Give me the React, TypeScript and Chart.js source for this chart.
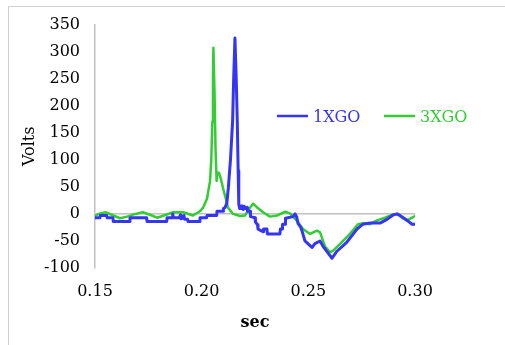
import React, { useEffect, useRef } from "react";
import { Chart, registerables } from "chart.js";

Chart.register(...registerables);

const seriesLabels = ["1XGO", "3XGO"];
const seriesColors = ["#3535F5", "#33CC33"];

const xTicks = [0.15, 0.2, 0.25, 0.3];

const blueT = [
  0.150, 0.1523, 0.1525, 0.1555, 0.1557, 0.1584, 0.1586, 0.1662, 0.1664, 0.1742,
  0.1744, 0.1836, 0.1838, 0.1862, 0.1864, 0.1868, 0.1896, 0.1900, 0.1903, 0.1915,
  0.1917, 0.1920, 0.1934, 0.1936, 0.1990, 0.1992, 0.2023, 0.2025, 0.2070, 0.2072,
  0.2100, 0.2102, 0.2110, 0.2118, 0.2125, 0.2135, 0.2145, 0.2150, 0.2156, 0.2162,
  0.2167, 0.2171, 0.2174, 0.2178, 0.2180, 0.2185, 0.2190, 0.2195, 0.2200, 0.2205,
  0.2213, 0.2215, 0.2227, 0.2229, 0.2250, 0.2252, 0.2262, 0.2264, 0.2288, 0.2290,
  0.2306, 0.2308, 0.2367, 0.2369, 0.2377, 0.2379, 0.2391, 0.2393, 0.2428, 0.2438,
  0.2445, 0.2452, 0.2465, 0.2470, 0.2484, 0.2517, 0.2531, 0.2555, 0.2569, 0.2592,
  0.2611, 0.2634, 0.2681, 0.2728, 0.2756, 0.2789, 0.2836, 0.2869, 0.2897, 0.2916,
  0.2930, 0.2963, 0.2986, 0.3000,
];
const blueV = [
  -7, -7, -3, -3, -7, -7, -14, -14, -7, -7,
  -14, -14, -7, -7, 0, -7, -7, -2, -9, -7,
  -3, -10, -10, -14, -14, -7, -7, -3, -3, 5,
  5, 10, 12, 20, 48, 100, 171, 250, 325, 250,
  171, 80, 18, 10, 15, 10, 15, 8, 14, 10,
  12, 5, 5, -5, -7, -15, -20, -28, -33, -28,
  -28, -37, -37, -28, -28, -19, -19, -8, -5, 0,
  -5, -18, -25, -31, -50, -62, -55, -50, -60, -72,
  -82, -69, -52, -28, -19, -17, -17, -10, -2, 0,
  -3, -12, -19, -19,
];

const greenT = [
  0.150, 0.1525, 0.1552, 0.1580, 0.1617, 0.1650, 0.1690, 0.1725, 0.1760, 0.1791,
  0.1830, 0.1866, 0.1913, 0.1959, 0.1992, 0.2006, 0.2025, 0.2039, 0.2045, 0.2050,
  0.2053, 0.2055, 0.2060, 0.2065, 0.2070, 0.2073, 0.2081, 0.2090, 0.2100, 0.2112,
  0.2123, 0.2147, 0.2165, 0.2180, 0.2203, 0.2220, 0.2241, 0.2260, 0.2288, 0.2320,
  0.2353, 0.2391, 0.2414, 0.2447, 0.2475, 0.2508, 0.2541, 0.2555, 0.2578, 0.2602,
  0.2616, 0.2648, 0.2695, 0.2733, 0.2756, 0.2789, 0.2822, 0.2859, 0.2892, 0.2916,
  0.2944, 0.2967, 0.3000,
];
const greenV = [
  -3, 1, 3, -2, -8, -5, 0, 3, -2, -7,
  -2, 3, 3, -3, 5, 11, 28, 60, 100, 171,
  250, 307, 230, 120, 61, 76, 76, 65, 48, 30,
  12, 0, -2, -4, -3, 8, 19, 12, 3, -5,
  -3, 4, 1, -13, -28, -37, -31, -34, -60, -71,
  -68, -56, -37, -19, -17, -19, -12, -7, -2, 0,
  -8, -11, -4,
];

const FONT = "'DejaVu Serif', 'Liberation Serif', serif";

export default function App() {
  const ref = useRef<HTMLCanvasElement | null>(null);

  useEffect(() => {
    if (!ref.current) return;
    const legendPlugin = {
      id: "customLegend",
      afterDraw(chart: any) {
        const ctx = chart.ctx;
        const items = [
          { x0: 277, x1: 308, tx: 313 },
          { x0: 384, x1: 415, tx: 420 },
        ];
        const y = 116;
        ctx.save();
        chart.data.datasets.forEach((ds: any, i: number) => {
          const it = items[i];
          ctx.strokeStyle = ds.borderColor;
          ctx.lineWidth = 2.5;
          ctx.beginPath();
          ctx.moveTo(it.x0, y);
          ctx.lineTo(it.x1, y);
          ctx.stroke();
          ctx.fillStyle = ds.borderColor;
          ctx.font = `16px ${FONT}`;
          ctx.textBaseline = "middle";
          ctx.textAlign = "left";
          ctx.fillText(ds.label, it.tx, y + 2);
        });
        ctx.restore();
      },
    };

    const chart = new Chart(ref.current, {
      type: "line",
      data: {
        datasets: [
          {
            label: seriesLabels[0],
            data: blueT.map((t, i) => ({ x: t, y: blueV[i] })),
            borderColor: seriesColors[0],
            borderWidth: 3,
            borderJoinStyle: "round",
            borderCapStyle: "round",
            pointRadius: 0,
            tension: 0,
          },
          {
            label: seriesLabels[1],
            data: greenT.map((t, i) => ({ x: t, y: greenV[i] })),
            borderColor: seriesColors[1],
            borderWidth: 2.5,
            borderJoinStyle: "round",
            borderCapStyle: "round",
            pointRadius: 0,
            tension: 0,
          },
        ],
      },
      options: {
        animation: false,
        responsive: false,
        devicePixelRatio: 1,
        layout: { padding: { left: 0, top: 24, right: 90, bottom: 0 } },
        plugins: { legend: { display: false }, tooltip: { enabled: false } },
        scales: {
          x: {
            type: "linear",
            min: 0.15,
            max: 0.3,
            afterFit: (s: any) => {
              s.height = 77;
            },
            afterBuildTicks: (s: any) => {
              s.ticks = xTicks.map((v) => ({ value: v }));
            },
            ticks: {
              padding: 14,
              color: "#000",
              font: { family: FONT, size: 16 },
              maxRotation: 0,
              callback: (v: any) => Number(v).toFixed(2),
            },
            grid: { display: false, drawTicks: false },
            border: { display: false },
            title: {
              display: true,
              text: "sec",
              color: "#000",
              font: { family: FONT, size: 16, weight: "bold" },
              padding: { top: 0, bottom: 13 },
            },
          },
          y: {
            min: -100,
            max: 350,
            afterFit: (s: any) => {
              s.width = 95;
            },
            ticks: {
              stepSize: 50,
              padding: 15,
              color: "#000",
              font: { family: FONT, size: 16 },
            },
            grid: {
              drawTicks: false,
              color: (c: any) => (c.tick && c.tick.value === 0 ? "#c0c0c0" : "rgba(0,0,0,0)"),
              lineWidth: 1.5,
            },
            border: { display: true, color: "#c0c0c0", width: 1.5 },
            title: {
              display: true,
              text: "Volts",
              color: "#000",
              font: { family: FONT, size: 16 },
              padding: { top: 20, bottom: 0 },
            },
          },
        },
      },
      plugins: [legendPlugin],
    });
    return () => chart.destroy();
  }, []);

  return (
    <div style={{ position: "absolute", left: 0, top: 0, width: 505, height: 345, overflow: "hidden", background: "#fff" }}>
      <div
        style={{
          position: "absolute",
          left: 8,
          top: 6,
          width: 600,
          height: 400,
          borderLeft: "1px solid #d0d0d0",
          borderTop: "1px solid #d0d0d0",
        }}
      />
      <canvas ref={ref} width={505} height={345} style={{ position: "absolute", left: 0, top: 0, width: 505, height: 345 }} />
    </div>
  );
}
